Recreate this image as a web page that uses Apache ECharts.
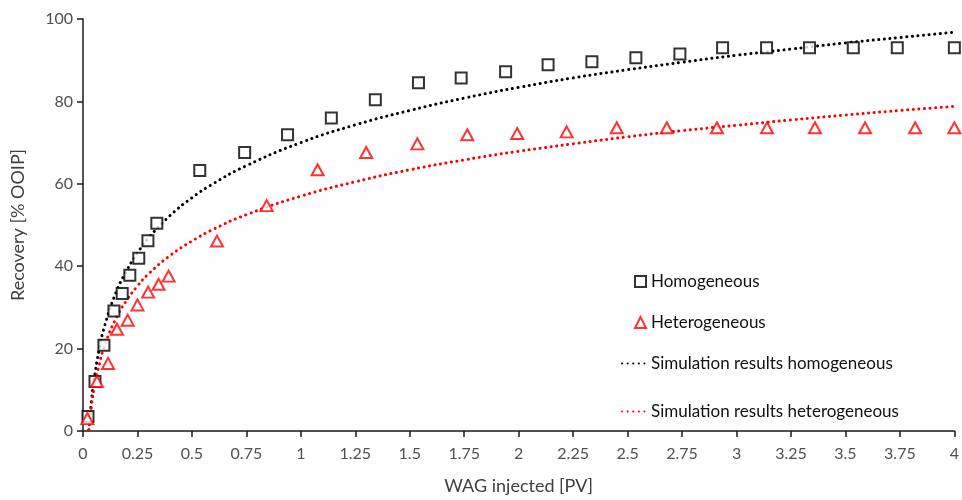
<!DOCTYPE html>
<html>
<head>
<meta charset="utf-8">
<script src="https://cdn.jsdelivr.net/npm/echarts@6/dist/echarts.min.js"></script>
<style>
    html, body { margin: 0; padding: 0; background: #fff; }
    #chartBox { width: 962px; height: 500px; }
</style>
</head>
<body>
<div id="chartBox"></div>
<script>
// measured recovery, homogeneous core  [PV injected, % OOIP]
const homX = [0.023, 0.055, 0.096, 0.142, 0.18, 0.215, 0.256, 0.298, 0.339, 0.536, 0.742, 0.939, 1.14, 1.342, 1.54, 1.736, 1.94, 2.135, 2.336, 2.538, 2.74, 2.936, 3.138, 3.335, 3.536, 3.738, 4.0]
const homY = [3.5, 12, 20.8, 29.1, 33.4, 37.8, 41.9, 46.2, 50.4, 63.2, 67.6, 71.9, 76, 80.4, 84.5, 85.7, 87.2, 88.9, 89.6, 90.6, 91.5, 93, 93, 93, 93, 93, 93]

// measured recovery, heterogeneous core
const hetX = [0.02, 0.064, 0.115, 0.156, 0.205, 0.25, 0.299, 0.347, 0.393, 0.615, 0.843, 1.077, 1.30, 1.535, 1.764, 1.993, 2.22, 2.45, 2.68, 2.91, 3.14, 3.36, 3.59, 3.82, 4.0]
const hetY = [3, 12, 16.4, 24.7, 26.9, 30.6, 33.7, 35.6, 37.6, 46.1, 54.7, 63.4, 67.6, 69.7, 71.9, 72.2, 72.6, 73.6, 73.6, 73.6, 73.6, 73.6, 73.6, 73.6, 73.6]

// simulation curves
const simX = [0.027, 0.03, 0.04, 0.05, 0.075, 0.1, 0.15, 0.2, 0.25, 0.3, 0.4, 0.5, 0.6, 0.75, 1, 1.25, 1.5, 1.75, 2, 2.25, 2.5, 2.75, 3, 3.25, 3.5, 3.75, 4]
const simHomY = [0.3, 2.3, 7.9, 12.2, 20, 25.6, 33.4, 38.9, 43.2, 46.8, 52.3, 56.6, 60.1, 64.4, 70, 74.3, 77.8, 80.8, 83.4, 85.7, 87.7, 89.5, 91.2, 92.7, 94.2, 95.5, 96.8]
const simHetY = [0.2, 1.9, 6.5, 10, 16.3, 20.8, 27.2, 31.7, 35.2, 38.1, 42.6, 46.1, 49, 52.5, 57, 60.5, 63.4, 65.8, 67.9, 69.7, 71.4, 72.9, 74.2, 75.5, 76.7, 77.8, 78.8]

const xTicks = { min: 0, max: 4, step: 0.25 }
const yTicks = { min: 0, max: 100, step: 20 }

function pairs(xs, ys) {
    return xs.map((x, i) => [x, ys[i]])
}

const font = 'Lato, "Open Sans", sans-serif'
let myChart = echarts.init(document.getElementById('chartBox'))
myChart.setOption({
    animation: false,
    backgroundColor: '#fff',
    textStyle: { fontFamily: font },
    grid: { left: 83, right: 6, top: 19, bottom: 68 },
    legend: [
        {
            data: ['Homogeneous', 'Heterogeneous'],
            orient: 'vertical',
            left: 629,
            top: 268,
            itemWidth: 11,
            itemHeight: 11,
            itemGap: 24,
            textStyle: { fontSize: 17, color: '#111', lineHeight: 17, fontFamily: font }
        },
        {
            data: ['Simulation results homogeneous', 'Simulation results heterogeneous'],
            orient: 'vertical',
            left: 616,
            top: 350,
            itemWidth: 24,
            itemHeight: 10,
            itemGap: 31,
            itemStyle: { opacity: 0 },
            textStyle: { fontSize: 17, color: '#111', lineHeight: 17, fontFamily: font }
        }
    ],
    xAxis: {
        type: 'value',
        min: xTicks.min,
        max: xTicks.max,
        interval: xTicks.step,
        name: 'WAG injected [PV]',
        nameLocation: 'middle',
        nameGap: 46,
        nameTextStyle: { fontSize: 18, color: '#404040', fontFamily: font },
        splitLine: { show: false },
        axisLine: { lineStyle: { color: '#1a1a1a', width: 1.5 } },
        axisTick: { show: true, length: 6, lineStyle: { color: '#1a1a1a', width: 1.5 } },
        axisLabel: { fontSize: 16, color: '#505050', margin: 15, fontFamily: font }
    },
    yAxis: {
        type: 'value',
        min: yTicks.min,
        max: yTicks.max,
        interval: yTicks.step,
        name: 'Recovery [% OOIP]',
        nameLocation: 'middle',
        nameGap: 56,
        nameTextStyle: { fontSize: 18, color: '#404040', fontFamily: font },
        splitLine: { show: false },
        axisLine: { show: true, lineStyle: { color: '#1a1a1a', width: 1.5 } },
        axisTick: { show: true, length: 6, lineStyle: { color: '#1a1a1a', width: 1.5 } },
        axisLabel: { fontSize: 16, color: '#505050', margin: 10, fontFamily: font }
    },
    series: [
        {
            name: 'Simulation results homogeneous',
            type: 'line',
            data: pairs(simX, simHomY),
            smooth: true,
            symbol: 'none',
            lineStyle: { color: '#000', width: 3, type: [0.1, 5.5], cap: 'round' },
            itemStyle: { color: '#000' },
            z: 1
        },
        {
            name: 'Simulation results heterogeneous',
            type: 'line',
            data: pairs(simX, simHetY),
            smooth: true,
            symbol: 'none',
            lineStyle: { color: '#ff0000', width: 3, type: [0.1, 5.5], cap: 'round' },
            itemStyle: { color: '#ff0000' },
            z: 1
        },
        {
            name: 'Homogeneous',
            type: 'scatter',
            data: pairs(homX, homY),
            symbol: 'rect',
            symbolSize: 11,
            itemStyle: { color: '#fff', borderColor: '#000', borderWidth: 2 },
            z: 3
        },
        {
            name: 'Heterogeneous',
            type: 'scatter',
            data: pairs(hetX, hetY),
            symbol: 'triangle',
            symbolSize: [12, 11],
            itemStyle: { color: '#fff', borderColor: '#ff0000', borderWidth: 2 },
            z: 3
        }
    ]
})
</script>
</body>
</html>
